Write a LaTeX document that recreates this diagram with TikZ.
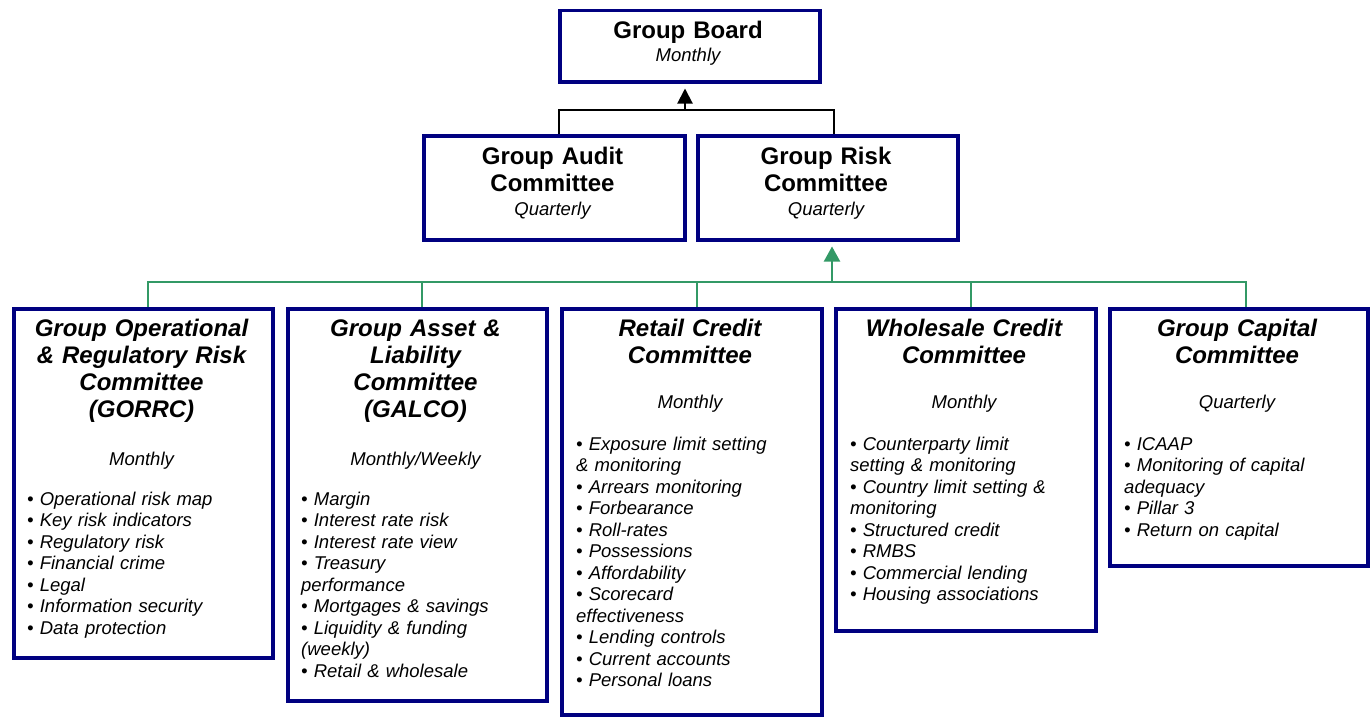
\documentclass[tikz,border=0pt]{standalone}
\usepackage{fontspec}
\setmainfont{Liberation Sans}
\usetikzlibrary{arrows.meta}
\definecolor{boxblue}{RGB}{0,0,128}
\definecolor{linkgreen}{RGB}{51,153,102}
\begin{document}
\begin{tikzpicture}[x=1bp,y=-1bp,
  cbox/.style={draw=boxblue,line width=3.5bp,fill=white,anchor=north west,inner sep=0pt},
  htitle/.style={anchor=base,align=center,inner sep=0pt,text width=250bp,font=\fontsize{24bp}{27bp}\selectfont\bfseries},
  ctitle/.style={htitle,font=\fontsize{24bp}{27bp}\selectfont\bfseries\itshape},
  freq/.style={anchor=base,inner sep=0pt,font=\fontsize{18.5bp}{21.5bp}\selectfont\itshape},
  items/.style={anchor=base west,align=left,inner sep=0pt,text width=235bp,font=\fontsize{18.5bp}{21.5bp}\selectfont\itshape},
  blk/.style={draw=black,line width=2bp},
  grn/.style={draw=linkgreen,line width=2bp}]
\useasboundingbox (0,0) rectangle (1370,716);
% top level
\node[cbox,minimum width=260bp,minimum height=71bp] (board) at (558,9) {};
\node[htitle] (board-t) at (688,38.5) {Group Board};
\node[freq] (board-f) at (688,62) {Monthly};
\node[cbox,minimum width=261bp,minimum height=104bp] (audit) at (422,134) {};
\node[htitle] (audit-t) at (552.5,164.5) {Group Audit\\Committee};
\node[freq] (audit-f) at (552.5,215) {Quarterly};
\node[cbox,minimum width=260bp,minimum height=104bp] (risk) at (696,134) {};
\node[htitle] (risk-t) at (826,164.5) {Group Risk\\Committee};
\node[freq] (risk-f) at (826,215) {Quarterly};
% committees
\node[cbox,minimum width=259bp,minimum height=349bp] (gorrc) at (12,307) {};
\node[ctitle] (gorrc-t) at (141.5,336) {Group Operational\\\& Regulatory Risk\\Committee\\(GORRC)};
\node[freq] (gorrc-f) at (141.5,465) {Monthly};
\node[items] (gorrc-i) at (27,505) {• Operational risk map\\• Key risk indicators\\• Regulatory risk\\• Financial crime\\• Legal\\• Information security\\• Data protection};
\node[cbox,minimum width=259bp,minimum height=392bp] (galco) at (286,307) {};
\node[ctitle] (galco-t) at (415.5,336) {Group Asset \&\\Liability\\Committee\\(GALCO)};
\node[freq] (galco-f) at (415.5,465) {Monthly/Weekly};
\node[items] (galco-i) at (301,505) {• Margin\\• Interest rate risk\\• Interest rate view\\• Treasury\\performance\\• Mortgages \& savings\\• Liquidity \& funding\\(weekly)\\• Retail \& wholesale};
\node[cbox,minimum width=260bp,minimum height=406bp] (rcc) at (560,307) {};
\node[ctitle] (rcc-t) at (690,336) {Retail Credit\\Committee};
\node[freq] (rcc-f) at (690,408) {Monthly};
\node[items] (rcc-i) at (576,450) {• Exposure limit setting\\\& monitoring\\• Arrears monitoring\\• Forbearance\\• Roll-rates\\• Possessions\\• Affordability\\• Scorecard\\effectiveness\\• Lending controls\\• Current accounts\\• Personal loans};
\node[cbox,minimum width=260bp,minimum height=322bp] (wcc) at (834,307) {};
\node[ctitle] (wcc-t) at (964,336) {Wholesale Credit\\Committee};
\node[freq] (wcc-f) at (964,408) {Monthly};
\node[items] (wcc-i) at (850,450) {• Counterparty limit\\setting \& monitoring\\• Country limit setting \&\\monitoring\\• Structured credit\\• RMBS\\• Commercial lending\\• Housing associations};
\node[cbox,minimum width=258bp,minimum height=257bp] (gcc) at (1108,307) {};
\node[ctitle] (gcc-t) at (1237,336) {Group Capital\\Committee};
\node[freq] (gcc-f) at (1237,408) {Quarterly};
\node[items] (gcc-i) at (1124,450) {• ICAAP\\• Monitoring of capital\\adequacy\\• Pillar 3\\• Return on capital};
% reporting lines
\coordinate (kbus) at (685,110);
\draw[blk] ([xshift=5bp]audit.north) |- (kbus) -| ([xshift=6bp]risk.north);
\draw[blk,-{Triangle[width=15bp,length=15bp]},shorten >=5bp] (kbus) -- (kbus |- board.south);
\coordinate (gbus) at (832,282);
\draw[grn] ([xshift=5bp]gorrc.north) |- (gbus) -| ([xshift=7bp]gcc.north);
\draw[grn] ([xshift=5bp]galco.north) -- ([xshift=5bp]galco.north |- gbus);
\draw[grn] ([xshift=5bp]rcc.north) -- ([xshift=5bp]rcc.north |- gbus);
\draw[grn] ([xshift=5bp]wcc.north) -- ([xshift=5bp]wcc.north |- gbus);
\draw[grn,-{Triangle[width=16bp,length=15bp]},shorten >=5bp] (gbus) -- (gbus |- risk.south);
\end{tikzpicture}
\end{document}
